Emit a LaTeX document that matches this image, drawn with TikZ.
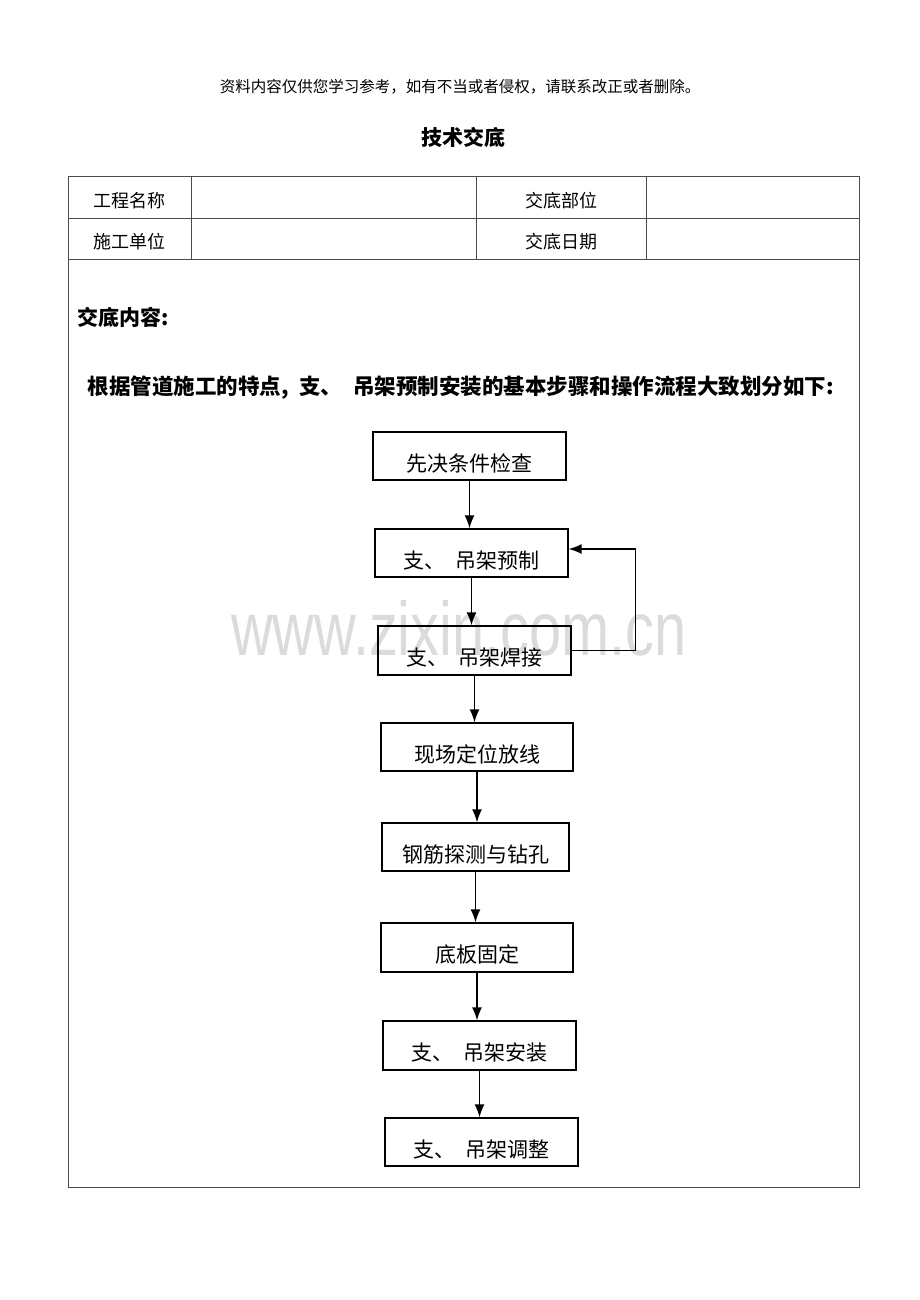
\documentclass[tikz,border=0pt]{standalone}
\usepackage{fontspec}
\setmainfont{Liberation Serif}
\newfontfamily\cjk{Noto Sans CJK SC}
\newfontfamily\wmfont{Liberation Sans}
\usetikzlibrary{arrows.meta}

\definecolor{wmgray}{rgb}{0.86,0.86,0.86}
\definecolor{rulegray}{rgb}{0.3,0.3,0.3}

\tikzset{
  stage/.style={draw, line width=1.2pt, minimum width=193pt, minimum height=48pt,
    inner sep=0pt, text height=30pt, text depth=0pt,
    font=\cjk\fontsize{21}{21}\selectfont},
  cell/.style={font=\cjk\fontsize{18}{18}\selectfont},
  flow/.style={line width=1.5pt, -{Latex[length=13pt,width=10pt]}},
}

\begin{document}
\begin{tikzpicture}[x=1pt, y=-1pt]
        \useasboundingbox (0,0) rectangle (920,1300);

        % watermark behind everything
        \node[wmgray, font=\wmfont\fontsize{76}{76}\selectfont, xscale=0.76, anchor=base] (mark) at (459,655) {www.zixin.com.cn};

        \node (note) at (460,87) {\cjk\fontsize{15.5}{15.5}\selectfont 资料内容仅供您学习参考，如有不当或者侵权，请联系改正或者删除。};
        \node (title) at (463,137) {\cjk\bfseries\fontsize{21}{21}\selectfont 技术交底};

        % table frame
        \draw[line width=1pt, rulegray] (68,177) rectangle (859,1187);
        \draw[line width=1pt, rulegray] (68,218) -- (859,218);
        \draw[line width=1pt, rulegray] (68,259) -- (859,259);
        \draw[line width=1pt, rulegray] (191,177) -- (191,259);
        \draw[line width=1pt, rulegray] (476,177) -- (476,259);
        \draw[line width=1pt, rulegray] (646,177) -- (646,259);

        \node[cell] (name) at (129.5,201) {工程名称};
        \node[cell] (part) at (561,201) {交底部位};
        \node[cell] (unit) at (129.5,242) {施工单位};
        \node[cell] (date) at (561,242) {交底日期};

        \node[anchor=west] (content) at (74,317) {\cjk\bfseries\fontsize{21}{21}\selectfont 交底内容:};
        \node[anchor=west] (intro) at (84,388) {\cjk\bfseries\fontsize{21.5}{21.5}\selectfont 根据管道施工的特点,\enspace 支、\enspace 吊架预制安装的基本步骤和操作流程大致划分如下:};

        % flow chart
        \node[stage] (check) at (469.5,456) {先决条件检查};
        \node[stage] (prefab) at (471.5,553) {支、\enspace 吊架预制};
        \node[stage, minimum height=49pt] (weld) at (474.5,650.5) {支、\enspace 吊架焊接};
        \node[stage, minimum width=192pt] (layout) at (477,747) {现场定位放线};
        \node[stage, minimum width=187pt] (drill) at (475.5,847) {钢筋探测与钻孔};
        \node[stage, minimum width=192pt, minimum height=49pt] (plate) at (477,947.5) {底板固定};
        \node[stage, minimum height=49pt] (mount) at (479.5,1045.5) {支、\enspace 吊架安装};
        \node[stage] (adjust) at (481.5,1142) {支、\enspace 吊架调整};

        \foreach \a/\b in {check/prefab, prefab/weld, weld/layout, layout/drill, drill/plate, plate/mount, mount/adjust}
            \draw[flow] (\a.south) -- (\a.south |- \b.north);

        \draw[flow] (weld.east) -- ++(64,0) |- ([yshift=4pt]prefab.east);
    \end{tikzpicture}
\end{document}
